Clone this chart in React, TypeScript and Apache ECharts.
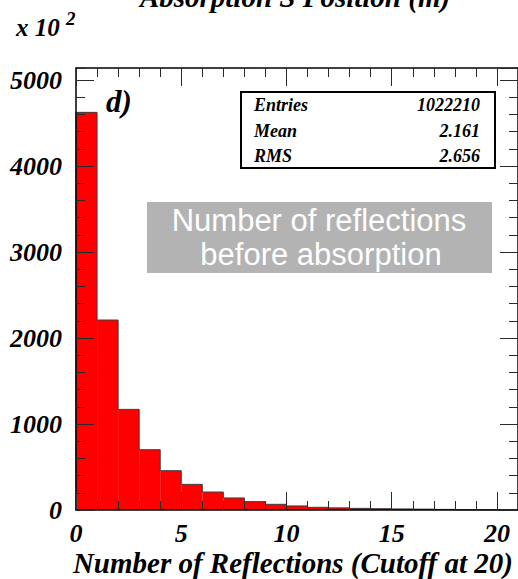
import React, { useEffect, useRef } from "react";
import * as echarts from "echarts";

// Histogram of reflections per photon, bins of width 1 from 0 to 21 (counts in units of 10^2)
const binStarts = [0, 1, 2, 3, 4, 5, 6, 7, 8, 9, 10, 11, 12, 13, 14, 15, 16, 17, 18, 19, 20];
const binCounts = [4624, 2209, 1170, 701, 457, 298, 209, 140, 97, 66, 47, 31, 25, 19, 15, 12, 10, 7, 3, 2, 1];

const statLabels = ["Entries", "Mean", "RMS"];
const statValues = ["1022210", "2.161", "2.656"];

const xMajorTicks = [0, 5, 10, 15, 20];
const yMajorTicks = [0, 1000, 2000, 3000, 4000, 5000];

const X_MAX = 21;
const Y_MAX = 5140;

const serif = "'Liberation Serif', 'Times New Roman', serif";
const sans = "'Liberation Sans', Arial, sans-serif";

export default function App() {
  const ref = useRef<HTMLDivElement>(null);

  useEffect(() => {
    if (!ref.current) return;
    const chart = echarts.init(ref.current, null, { renderer: "svg" });

    const data = binStarts.map((s, i) => [s, s + 1, binCounts[i], i > 0 ? binCounts[i - 1] : 0]);

    const tickStyle = { color: "#2a2a2a", width: 1 };
    const labelFont = {
      fontFamily: serif,
      fontWeight: "bold" as const,
      fontStyle: "italic" as const,
      fontSize: 26,
      color: "#000",
    };

    const xBase = { type: "value" as const, min: 0, max: X_MAX, splitLine: { show: false }, z: 5 };
    const yBase = { type: "value" as const, min: 0, max: Y_MAX, splitLine: { show: false }, z: 5 };

    const frameLine = { show: true, onZero: false, lineStyle: { color: "#000", width: 1.5 } };
    const noLine = { show: false, onZero: false };

    const option: echarts.EChartsOption = {
      animation: false,
      backgroundColor: "#fff",
      grid: { left: 76, top: 68, width: 443, height: 442, containLabel: false },
      xAxis: [
        {
          ...xBase,
          position: "bottom",
          interval: 5,
          axisLine: frameLine,
          axisTick: { show: true, inside: true, length: 18, lineStyle: tickStyle },
          axisLabel: {
            ...labelFont,
            margin: 10,
            showMaxLabel: false,
            formatter: (v: number) => (xMajorTicks.includes(v) ? String(v) : ""),
          },
        },
        {
          ...xBase,
          position: "bottom",
          interval: 1,
          axisLine: noLine,
          axisTick: { show: true, inside: true, length: 9, lineStyle: tickStyle },
          axisLabel: { show: false },
        },
        {
          ...xBase,
          position: "top",
          interval: 5,
          axisLine: frameLine,
          axisTick: { show: true, inside: true, length: 18, lineStyle: tickStyle },
          axisLabel: { show: false },
        },
        {
          ...xBase,
          position: "top",
          interval: 1,
          axisLine: noLine,
          axisTick: { show: true, inside: true, length: 9, lineStyle: tickStyle },
          axisLabel: { show: false },
        },
      ],
      yAxis: [
        {
          ...yBase,
          position: "left",
          interval: 1000,
          axisLine: frameLine,
          axisTick: { show: true, inside: true, length: 18, lineStyle: tickStyle },
          axisLabel: {
            ...labelFont,
            margin: 14,
            showMaxLabel: false,
            formatter: (v: number) => (yMajorTicks.includes(v) ? String(v) : ""),
          },
        },
        {
          ...yBase,
          position: "left",
          interval: 200,
          axisLine: noLine,
          axisTick: { show: true, inside: true, length: 9, lineStyle: tickStyle },
          axisLabel: { show: false },
        },
        {
          ...yBase,
          position: "right",
          interval: 1000,
          axisLine: frameLine,
          axisTick: { show: true, inside: true, length: 18, lineStyle: tickStyle },
          axisLabel: { show: false },
        },
        {
          ...yBase,
          position: "right",
          interval: 200,
          axisLine: noLine,
          axisTick: { show: true, inside: true, length: 9, lineStyle: tickStyle },
          axisLabel: { show: false },
        },
      ],
      series: [
        {
          type: "custom",
          xAxisIndex: 0,
          yAxisIndex: 0,
          z: 2,
          data,
          renderItem: (_params: any, api: any) => {
            const x0 = api.value(0);
            const x1 = api.value(1);
            const v = api.value(2);
            const pv = api.value(3);
            const top = api.coord([x0, v]);
            const base = api.coord([x1, 0]);
            const prev = api.coord([x0, pv]);
            return {
              type: "group",
              children: [
                {
                  type: "rect",
                  shape: { x: top[0], y: top[1], width: base[0] - top[0], height: base[1] - top[1] },
                  style: { fill: "#ff0000" },
                },
                {
                  type: "polyline",
                  shape: { points: [prev, [top[0], top[1]], [base[0], top[1]]] },
                  style: { stroke: "#3a3a3a", lineWidth: 1, fill: null },
                },
              ],
            };
          },
        },
      ],
      graphic: [
        {
          type: "text",
          x: 295,
          y: -3,
          style: {
            text: "Absorption S Position (m)",
            font: `italic bold 29px ${serif}`,
            fill: "#000",
            align: "center",
            verticalAlign: "middle",
          },
        },
        {
          type: "text",
          x: 16,
          y: 27,
          style: {
            text: "x 10",
            font: `italic bold 25px ${serif}`,
            fill: "#000",
            align: "left",
            verticalAlign: "middle",
          },
        },
        {
          type: "text",
          x: 66,
          y: 18,
          style: {
            text: "2",
            font: `italic bold 19px ${serif}`,
            fill: "#000",
            align: "left",
            verticalAlign: "middle",
          },
        },
        {
          type: "text",
          x: 106,
          y: 101,
          z: 10,
          style: {
            text: "d)",
            font: `italic bold 31px ${serif}`,
            fill: "#000",
            align: "left",
            verticalAlign: "middle",
          },
        },
        {
          type: "rect",
          z: 10,
          shape: { x: 241, y: 92, width: 254, height: 76 },
          style: { fill: "#fff", stroke: "#000", lineWidth: 2 },
        },
        ...statLabels.map((t, i) => ({
          type: "text" as const,
          z: 11,
          x: 254,
          y: [105, 131, 156][i],
          style: {
            text: t,
            font: `italic bold 18px ${serif}`,
            fill: "#000",
            align: "left" as const,
            verticalAlign: "middle" as const,
          },
        })),
        ...statValues.map((t, i) => ({
          type: "text" as const,
          z: 11,
          x: 480,
          y: [105, 131, 156][i],
          style: {
            text: t,
            font: `italic bold 18px ${serif}`,
            fill: "#000",
            align: "right" as const,
            verticalAlign: "middle" as const,
          },
        })),
        {
          type: "rect",
          z: 10,
          shape: { x: 147, y: 202, width: 345, height: 71 },
          style: { fill: "#b3b3b3" },
        },
        {
          type: "text",
          z: 11,
          x: 319,
          y: 220,
          style: {
            text: "Number of reflections",
            font: `31px ${sans}`,
            fill: "#fff",
            align: "center",
            verticalAlign: "middle",
          },
        },
        {
          type: "text",
          z: 11,
          x: 321,
          y: 254,
          style: {
            text: "before absorption",
            font: `31px ${sans}`,
            fill: "#fff",
            align: "center",
            verticalAlign: "middle",
          },
        },
        {
          type: "text",
          x: 513,
          y: 563,
          style: {
            text: "Number of Reflections (Cutoff at 20)",
            font: `italic bold 29px ${serif}`,
            fill: "#000",
            align: "right",
            verticalAlign: "middle",
          },
        },
      ],
    };

    chart.setOption(option);
    return () => chart.dispose();
  }, []);

  return (
    <div
      ref={ref}
      style={{ position: "fixed", left: 0, top: 0, width: 518, height: 579, background: "#fff" }}
    />
  );
}
